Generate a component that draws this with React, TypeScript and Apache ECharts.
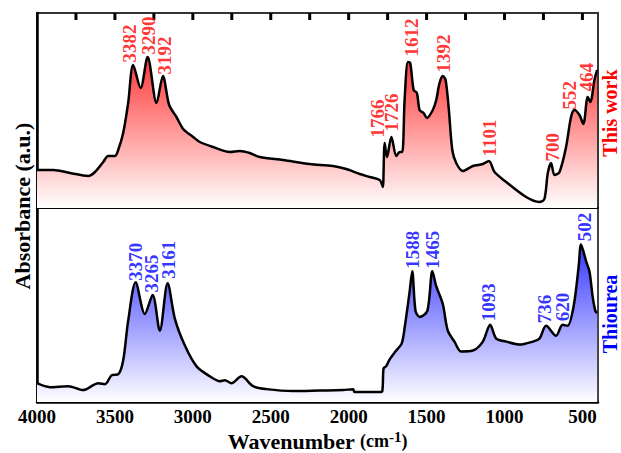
import React, { useEffect, useRef } from "react";
import * as echarts from "echarts";

// ---- Data (wavenumber cm^-1, absorbance a.u.) ----
const thisWork: [number, number][] = [
  [4000, 38], [3895, 38], [3788, 35], [3671, 32], [3628, 36], [3575, 46], [3543, 52], [3500, 52],
  [3479, 58], [3447, 75], [3415, 105], [3383, 143], [3335, 120], [3290, 151], [3233, 105], [3192, 132],
  [3152, 103], [3105, 91], [3062, 79], [2998, 71], [2955, 66], [2870, 61], [2763, 56], [2699, 57],
  [2635, 55], [2571, 51], [2421, 48], [2250, 44], [2101, 42], [2015, 39], [1929, 34], [1865, 31],
  [1801, 28], [1785, 23], [1780, 21], [1769, 65], [1754, 51], [1726, 71], [1694, 52], [1673, 56],
  [1656, 56], [1641, 108], [1620, 146], [1605, 145], [1583, 118], [1562, 115], [1545, 98], [1519, 95],
  [1498, 90], [1460, 98], [1438, 108], [1417, 125], [1396, 132], [1378, 128], [1357, 98], [1335, 58],
  [1310, 45], [1267, 37], [1203, 42], [1139, 44], [1100, 47], [1064, 36], [989, 26], [861, 11],
  [776, 6], [744, 9], [722, 35], [701, 45], [679, 33], [647, 36], [605, 61], [573, 91],
  [551, 98], [519, 93], [494, 84], [466, 111], [449, 106], [423, 128], [406, 138],
];

const thiourea: [number, number][] = [
  [4000, 19], [3917, 15], [3799, 16], [3703, 12], [3607, 19], [3564, 18], [3521, 27], [3479, 28],
  [3447, 42], [3415, 82], [3367, 121], [3308, 89], [3258, 108], [3212, 72], [3162, 120], [3115, 84],
  [3051, 57], [2976, 36], [2891, 26], [2827, 21], [2795, 22], [2752, 19], [2688, 26], [2613, 16],
  [2528, 13], [2357, 11], [2186, 11.5], [2036, 12], [1972, 13], [1962, 10], [1801, 10], [1784, 11],
  [1776, 34], [1760, 36], [1737, 43], [1700, 51], [1660, 59], [1640, 76], [1610, 110], [1592, 132],
  [1571, 92], [1545, 86], [1495, 92], [1463, 132], [1438, 117], [1396, 99], [1364, 72], [1321, 61],
  [1278, 51], [1203, 52], [1139, 61], [1092, 78], [1053, 64], [989, 61], [904, 58], [819, 61],
  [776, 64], [733, 77], [669, 67], [627, 78], [595, 77], [556, 97], [524, 137], [509, 159],
  [476, 142], [455, 132], [434, 106], [417, 92], [406, 90],
];

const topPeakLabels = ["3382", "3290", "3192", "1766", "1726", "1612", "1392", "1101", "700", "552", "464"];
const topLabelAnchors: [number, number][] = [
  [3404, 145], [3287, 153], [3179, 133], [1816, 70], [1724, 76], [1598, 151], [1391, 135],
  [1096, 51], [694, 46], [583, 98], [476, 116],
];
const bottomPeakLabels = ["3370", "3265", "3161", "1588", "1465", "1093", "736", "620", "502"];
const bottomLabelAnchors: [number, number][] = [
  [3365, 122], [3265, 110], [3158, 124], [1588, 134], [1460, 134], [1101, 81], [744, 79], [630, 81], [487, 162],
];

const xTickValues = [3750, 3500, 3250, 3000, 2750, 2500, 2250, 2000, 1750, 1500, 1250, 1000, 750, 500];
const xLabelValues = [4000, 3500, 3000, 2500, 2000, 1500, 1000, 500];

const FONT = "'Liberation Serif', 'Times New Roman', serif";
const TOP_MAX = 195;
const BOTTOM_MAX = 196;

export default function App() {
  const ref = useRef<HTMLDivElement>(null);

  useEffect(() => {
    if (!ref.current) return;
    const chart = echarts.init(ref.current, null, { renderer: "svg" });

    const labelSeries = (labels: string[], anchors: [number, number][], idx: number, color: string) => ({
      type: "scatter",
      xAxisIndex: idx,
      yAxisIndex: idx,
      symbolSize: 1,
      itemStyle: { color: "transparent" },
      silent: true,
      z: 5,
      data: anchors.map((a, i) => ({ value: a, name: labels[i] })),
      label: {
        show: true,
        formatter: (p: any) => p.name,
        position: "top",
        distance: 0,
        rotate: 90,
        align: "left",
        verticalAlign: "middle",
        color,
        fontFamily: FONT,
        fontSize: 19,
        fontWeight: "bold",
      },
    });

    const grad = (top: string, bottom: string) =>
      new echarts.graphic.LinearGradient(0, 0, 0, 1, [
        { offset: 0, color: top },
        { offset: 1, color: bottom },
      ]);

    const baseX = {
      type: "value",
      inverse: true,
      min: 400,
      max: 4000,
      splitLine: { show: false },
    };
    const baseY = {
      type: "value",
      axisLabel: { show: false },
      axisTick: { show: false },
      splitLine: { show: false },
      axisLine: { show: true, lineStyle: { color: "#000", width: 2.5 } },
    };

    chart.setOption({
      animation: false,
      backgroundColor: "#fff",
      grid: [
        { left: 37, right: 23, top: 13, height: 195, show: true, borderColor: "#333", borderWidth: 2 },
        { left: 37, right: 23, top: 208, height: 196, show: true, borderColor: "#444", borderWidth: 2 },
      ],
      xAxis: [
        {
          ...baseX,
          gridIndex: 0,
          position: "top",
          axisLine: { show: true, lineStyle: { color: "#000", width: 2 } },
          axisTick: { show: false },
          axisLabel: { show: false },
        },
        {
          ...baseX,
          gridIndex: 1,
          position: "bottom",
          axisLine: { show: true, lineStyle: { color: "#000", width: 2.5 } },
          axisTick: { show: false },
          axisLabel: {
            show: true,
            customValues: xLabelValues,
            formatter: (v: number) => String(v),
            color: "#000",
            fontFamily: FONT,
            fontSize: 19,
            fontWeight: "bold",
            margin: 5,
          },
          name: "{a|Wavenumber }{b|(cm}{c|-1}{b|)}",
          nameLocation: "middle",
          nameGap: 27,
          nameTextStyle: {
            color: "#000",
            fontFamily: FONT,
            rich: {
              a: { fontSize: 22, fontWeight: "bold", fontFamily: FONT, color: "#000", lineHeight: 24 },
              b: { fontSize: 18, fontWeight: "bold", fontFamily: FONT, color: "#000", lineHeight: 24 },
              c: { fontSize: 15, fontWeight: "bold", fontFamily: FONT, color: "#000", verticalAlign: "top", lineHeight: 15 },
            },
          },
        },
      ],
      yAxis: [
        { ...baseY, gridIndex: 0, min: 0, max: TOP_MAX },
        { ...baseY, gridIndex: 1, min: 0, max: BOTTOM_MAX },
      ],
      series: [
        {
          type: "line",
          xAxisIndex: 0,
          yAxisIndex: 0,
          data: thisWork,
          symbol: "none",
          smooth: 0.3,
          lineStyle: { color: "#000", width: 2.5 },
          areaStyle: { color: grad("rgba(255,55,55,1)", "rgba(255,255,255,1)"), opacity: 1 },
          z: 3,
        },
        {
          type: "line",
          xAxisIndex: 1,
          yAxisIndex: 1,
          data: thiourea,
          symbol: "none",
          smooth: 0.3,
          lineStyle: { color: "#000", width: 2.5 },
          areaStyle: { color: grad("rgba(55,55,255,1)", "rgba(255,255,255,1)"), opacity: 1 },
          z: 3,
        },
        {
          // inward ticks along the top frame
          type: "scatter",
          xAxisIndex: 0,
          yAxisIndex: 0,
          silent: true,
          clip: false,
          symbol: "rect",
          symbolSize: [3, 7],
          itemStyle: { color: "#000", opacity: 1 },
          data: xTickValues.map((w) => [w, TOP_MAX - 3.5]),
          z: 4,
        },
        labelSeries(topPeakLabels, topLabelAnchors, 0, "#ff0000"),
        labelSeries(bottomPeakLabels, bottomLabelAnchors, 1, "#0000ff"),
      ],
      graphic: [
        {
          type: "text",
          x: 22,
          y: 206,
          rotation: Math.PI / 2,
          style: {
            text: "Absorbance (a.u.)",
            fill: "#000",
            font: `bold 22px ${FONT}`,
            align: "center",
            verticalAlign: "middle",
            textAlign: "center",
            textVerticalAlign: "middle",
          },
        },
        {
          type: "text",
          x: 610,
          y: 113,
          rotation: Math.PI / 2,
          style: {
            text: "This work",
            fill: "#ff0000",
            font: `bold 20px ${FONT}`,
            align: "center",
            verticalAlign: "middle",
            textAlign: "center",
            textVerticalAlign: "middle",
          },
        },
        {
          type: "text",
          x: 610,
          y: 314,
          rotation: Math.PI / 2,
          style: {
            text: "Thiourea",
            fill: "#0000ff",
            font: `bold 20px ${FONT}`,
            align: "center",
            verticalAlign: "middle",
            textAlign: "center",
            textVerticalAlign: "middle",
          },
        },
      ],
    });

    return () => chart.dispose();
  }, []);

  return <div ref={ref} style={{ position: "absolute", left: 0, top: 0, width: 621, height: 453 }} />;
}
